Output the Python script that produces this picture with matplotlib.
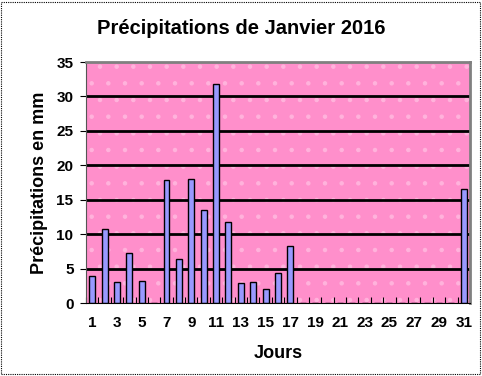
import numpy as np
import matplotlib.pyplot as plt
from matplotlib.patches import Rectangle

plt.rcParams['font.family'] = ['Liberation Sans', 'DejaVu Sans']
plt.rcParams['hatch.linewidth'] = 0.8

# --- data ---
days = list(range(1, 32))
rain_mm = [4.0, 10.7, 3.0, 7.3, 3.2, 0.0, 17.9, 6.4, 18.0, 13.5,
           31.8, 11.7, 2.9, 3.0, 2.1, 4.3, 8.3, 0, 0, 0,
           0, 0, 0, 0, 0, 0, 0, 0, 0, 0,
           16.6]
y_ticks = [0, 5, 10, 15, 20, 25, 30, 35]
x_labels = list(range(1, 32, 2))

PINK = "#FF8FCB"
BLUE = "#9999FF"

fig = plt.figure(figsize=(4.82, 3.76), dpi=100)
ax = fig.add_axes([0.1784, 0.194, 0.7966, 0.641])

ax.set_facecolor(PINK)
# faint dotted fill pattern of the plot area
ax.add_patch(Rectangle((0, 0), 1, 1, transform=ax.transAxes, facecolor="none",
                       edgecolor="#FFB3DC", hatch=".", linewidth=0, zorder=0.5))

for y in y_ticks[1:-1]:
    ax.axhline(y, color="black", linewidth=2.0, zorder=1)

ax.bar(days, rain_mm, width=0.48, color=BLUE, edgecolor="black", linewidth=1.0, zorder=2)

ax.set_xlim(0.5, 31.5)
ax.set_ylim(0, 35)

ax.set_yticks(y_ticks)
ax.set_xticks(x_labels)
ax.set_xticks(np.arange(0.5, 32, 1), minor=True)
ax.tick_params(axis="x", which="major", length=0, pad=9, labelsize=11)
ax.tick_params(axis="x", which="minor", length=4, direction="in", width=0.8)
ax.tick_params(axis="y", length=4, direction="out", width=0.8, labelsize=11, pad=5)
for lab in ax.get_xticklabels() + ax.get_yticklabels():
    lab.set_fontweight("bold")

for side in ("top", "right"):
    ax.spines[side].set_color("#808080")
    ax.spines[side].set_linewidth(2)
ax.spines["left"].set_color("#555555")
ax.spines["bottom"].set_color("black")

ax.set_xlabel("Jours", fontsize=13, fontweight="bold", labelpad=11)
ax.set_ylabel("Précipitations en mm", fontsize=13, fontweight="bold", labelpad=6)
fig.text(0.5, 0.925, "Précipitations de Janvier 2016", ha="center", va="center",
         fontsize=14.5, fontweight="bold")

# dotted frame around the whole chart
fig.add_artist(Rectangle((0.002, 0.006), 0.993, 0.99, transform=fig.transFigure,
                         fill=False, edgecolor="black", linewidth=0.8, linestyle=(0, (1, 1))))

fig.savefig("out.png", dpi=100)
